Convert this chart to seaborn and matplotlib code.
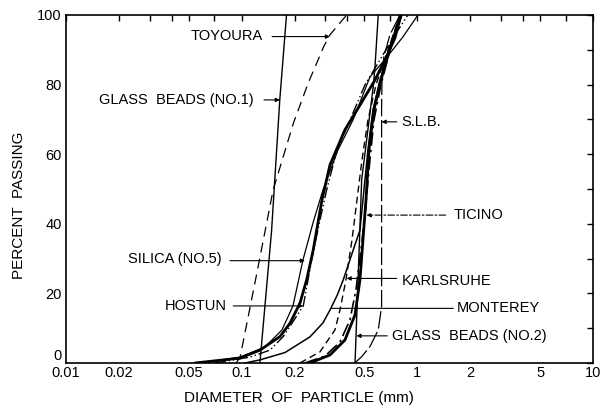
import numpy as np
import pandas as pd
import matplotlib
matplotlib.use("Agg")
import matplotlib.pyplot as plt
import seaborn as sns

# grain size curves: diameter (mm) and percent passing
gb1_d = [0.127, 0.148, 0.165, 0.180]
gb1_p = [0, 38, 76, 100]

toy_d = [0.093, 0.098, 0.122, 0.151, 0.197, 0.239, 0.293, 0.318, 0.396]
toy_p = [0, 1.7, 25.8, 49.7, 68.9, 80.4, 90.9, 94.3, 100]

gb2_d = [0.442, 0.482, 0.561, 0.574, 0.599]
gb2_p = [0, 52.6, 79.4, 85.1, 100]

slb_d = [0.44, 0.482, 0.537, 0.599, 0.626, 0.626, 0.630, 0.645, 0.698, 0.796]
slb_p = [0, 1.8, 4.7, 9.5, 16.2, 73.6, 82.3, 88.0, 94.3, 100]

sil_d = [0.0579, 0.0978, 0.1357, 0.1696, 0.1959, 0.2233, 0.2545, 0.2901,
         0.3532, 0.430, 0.5374, 0.6714, 0.8279, 1.008]
sil_p = [0, 1.7, 4.6, 9.5, 16.4, 29.6, 40.2, 49.7, 61.2, 69.8, 82.2, 87.9, 93.7, 100]

hos_d = [0.0542, 0.0978, 0.1271, 0.1652, 0.1883, 0.2147, 0.2344, 0.2555,
         0.2673, 0.2864, 0.3181, 0.3871, 0.4714, 0.5738, 0.6541, 0.7457, 0.8068]
hos_p = [0, 1.4, 3.7, 7.6, 11.4, 17.2, 23.9, 32.5, 38.2, 46.8, 56.9, 67.0,
         74.1, 81.3, 87.1, 93.4, 100]

ddd_d = [0.0705, 0.1115, 0.1449, 0.1725, 0.2242, 0.2502, 0.2791, 0.3046,
         0.3486, 0.4135, 0.5033, 0.6126, 0.7457, 0.8841]
ddd_p = [0, 1.7, 3.7, 7.6, 16.4, 29.6, 41.1, 49.7, 61.2, 69.8, 79.9, 87.1, 94.3, 100]

mon_d = [0.1044, 0.1271, 0.1764, 0.2447, 0.29, 0.3181, 0.35, 0.3786, 0.4317,
         0.4714, 0.4967, 0.5234, 0.5589, 0.6126, 0.6985, 0.8174]
mon_p = [0, 0.9, 3.0, 7.5, 11.5, 15.2, 19.5, 23.9, 32.5, 38.2, 49.7, 61.2,
         72.7, 81.3, 90.5, 100]

kar_d = [0.2147, 0.2791, 0.3396, 0.3627, 0.3923, 0.4244, 0.4532, 0.4839,
         0.5234, 0.5813, 0.6803, 0.7962]
kar_p = [0, 3.2, 9.5, 15.2, 23.9, 35.3, 46.8, 58.3, 69.8, 79.9, 89.9, 100]

tic_d = [0.2293, 0.298, 0.3627, 0.4135, 0.4473, 0.4775, 0.5033, 0.5303,
         0.5662, 0.6205, 0.6985, 0.7962]
tic_p = [0, 2.0, 6.0, 12.4, 21.0, 32.5, 42.5, 55.5, 69.8, 79.9, 89.9, 100]

thk_d = [0.2447, 0.3181, 0.3871, 0.4415, 0.4714, 0.4902, 0.510, 0.5303,
         0.5662, 0.6205, 0.7077, 0.8068]
thk_p = [0, 2.3, 6.6, 13.8, 23.9, 35.3, 46.8, 61.2, 72.7, 81.3, 91.4, 100]

# labels: text, text anchor (d, P), leader start d, leader end d, leader P
labels = ["TOYOURA", "GLASS  BEADS (NO.1)", "S.L.B.", "TICINO", "SILICA (NO.5)",
          "HOSTUN", "KARLSRUHE", "MONTEREY", "GLASS  BEADS (NO.2)"]
label_d = [0.132, 0.1164, 0.814, 1.616, 0.0769, 0.0822, 0.814, 1.674, 0.714]
label_p = [94.0, 75.6, 69.3, 42.5, 29.8, 16.4, 23.6, 15.7, 7.8]
lead_from = [0.149, 0.134, 0.764, 1.449, 0.0858, 0.0896, 0.764, 1.601, 0.674]
lead_to = [0.318, 0.165, 0.626, 0.514, 0.229, 0.224, 0.396, 0.325, 0.450]
lead_p = [93.8, 75.6, 69.3, 42.5, 29.4, 16.4, 24.3, 15.7, 7.8]

sns.set_theme(style="white")
plt.rcParams["font.family"] = ["Liberation Sans", "DejaVu Sans"]

fig = plt.figure(figsize=(6.12, 4.07), dpi=100)
ax = fig.add_axes([66 / 612, 44 / 407, 527 / 612, 348 / 407])

curves = [
    (gb1_d, gb1_p, "-", 1.0),
    (toy_d, toy_p, (0, (8, 5)), 0.9),
    (gb2_d, gb2_p, "-", 1.0),
    (slb_d, slb_p, (0, (14, 3)), 0.9),
    (sil_d, sil_p, "-", 0.9),
    (hos_d, hos_p, "-", 2.0),
    (ddd_d, ddd_p, (0, (8, 2, 1, 2, 1, 2)), 1.0),
    (mon_d, mon_p, "-", 1.1),
    (kar_d, kar_p, (0, (5, 3)), 1.0),
    (tic_d, tic_p, (0, (8, 2.5, 1.5, 2.5)), 1.2),
    (thk_d, thk_p, "-", 2.0),
]
for d, p, ls, lw in curves:
    sns.lineplot(x=d, y=p, ax=ax, sort=False, color="black", lw=lw,
                 linestyle=ls, estimator=None)

for i, txt in enumerate(labels):
    ha = "right" if label_d[i] < lead_to[i] else "left"
    ax.text(label_d[i], label_p[i], txt, ha=ha, va="center", fontsize=10.5,
            color="black")
    style = "-" if txt == "MONTEREY" else "-|>"
    ls = (0, (6, 2, 1.5, 2)) if txt == "TICINO" else "-"
    ax.annotate("", xy=(lead_to[i], lead_p[i]), xytext=(lead_from[i], lead_p[i]),
                arrowprops=dict(arrowstyle=style, color="black", lw=0.8,
                                linestyle=ls, mutation_scale=6,
                                shrinkA=0, shrinkB=0))

ax.set_xscale("log")
ax.set_xlim(0.01, 10)
ax.set_ylim(0, 100)
xt = [0.01, 0.02, 0.05, 0.1, 0.2, 0.5, 1, 2, 5, 10]
ax.set_xticks(xt)
ax.set_xticklabels(["0.01", "0.02", "0.05", "0.1", "0.2", "0.5", "1", "2", "5", "10"])
ax.set_xticks([0.03, 0.04, 0.07, 0.3, 0.4, 0.7, 3, 4, 7], minor=True)
ax.set_yticks([0, 20, 40, 60, 80, 100])
ax.set_yticks([10, 30, 50, 70, 90], minor=True)
ax.tick_params(which="both", direction="in", top=True, right=True, length=4,
               width=1, color="black", labelsize=10.5, labelcolor="black")
ax.tick_params(axis="x", which="major", pad=2)
ax.tick_params(axis="y", which="major", pad=3)
ax.xaxis.set_minor_formatter(plt.NullFormatter())
ax.get_yticklabels()[0].set_va("bottom")
for s in ax.spines.values():
    s.set_visible(True)
    s.set_color("black")
    s.set_linewidth(1.2)

fig.text(299 / 612, 1 - 398 / 407, "DIAMETER  OF  PARTICLE (mm)", fontsize=11,
         ha="center", va="center", color="black")
ax.set_ylabel("PERCENT  PASSING", fontsize=11, color="black")
ax.yaxis.set_label_coords(-0.075, 0.454)
ax.grid(False)

fig.savefig("out.png", dpi=100)
